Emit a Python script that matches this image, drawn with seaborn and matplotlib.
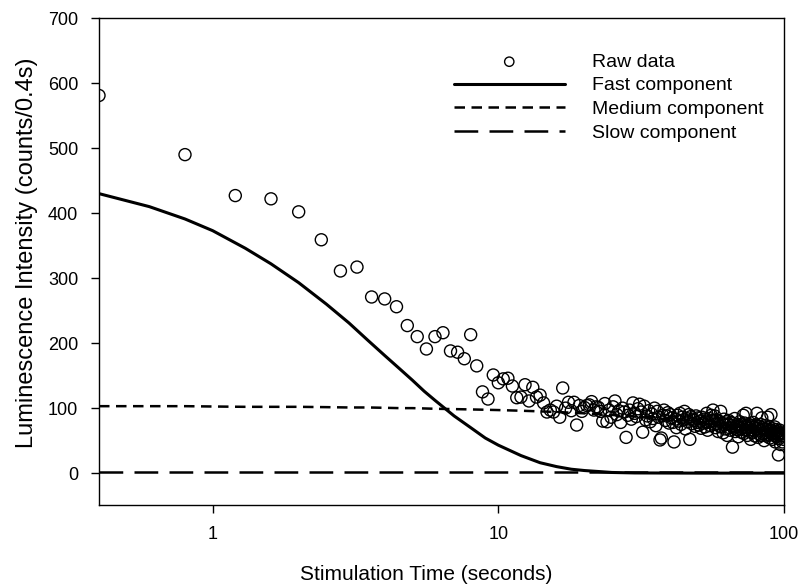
import numpy as np
import pandas as pd
import matplotlib
matplotlib.use("Agg")
import matplotlib.pyplot as plt
import seaborn as sns

# ---------------- data ----------------
# raw data: one channel every 0.4 s, 250 channels (0.4 .. 100 s)
raw_time = np.round(np.arange(1, 251) * 0.4, 1)
raw_counts = [
    581, 490, 427, 422, 402, 359, 311, 317, 271, 268,
    256, 227, 210, 191, 210, 216, 188, 186, 176, 213,
    165, 125, 114, 151, 139, 145, 146, 134, 116, 117,
    136, 111, 132, 117, 120, 108, 94, 97, 94, 103,
    86, 131, 100, 109, 96, 109, 74, 104, 95, 101,
    104, 105, 110, 97, 102, 101, 95, 80, 107, 79,
    97, 86, 102, 111, 90, 96, 78, 100, 94, 55,
    89, 97, 83, 108, 92, 87, 99, 106, 94, 63,
    103, 82, 88, 96, 79, 91, 84, 100, 73, 95,
    86, 51, 54, 89, 97, 81, 88, 93, 77, 90,
    85, 78, 48, 83, 70, 89, 80, 92, 75, 86,
    82, 95, 68, 84, 79, 90, 52, 87, 76, 83,
    81, 72, 88, 78, 85, 74, 80, 69, 86, 77,
    83, 71, 79, 92, 66, 78, 84, 73, 89, 81,
    97, 75, 88, 70, 82, 76, 64, 80, 72, 95,
    71, 77, 62, 83, 74, 68, 79, 58, 75, 81,
    70, 66, 78, 73, 40, 76, 69, 84, 64, 72,
    67, 75, 56, 71, 79, 68, 63, 74, 70, 89,
    61, 77, 66, 92, 72, 58, 69, 75, 64, 71,
    52, 67, 73, 62, 78, 65, 70, 57, 68, 74,
    92, 69, 55, 72, 60, 66, 75, 58, 85, 70,
    61, 67, 50, 73, 62, 68, 57, 65, 86, 59,
    64, 71, 54, 66, 90, 60, 65, 52, 68, 58,
    63, 71, 48, 62, 67, 56, 64, 59, 28, 53,
    61, 66, 44, 60, 57, 63, 48, 58, 52, 61,
]

comp_time = [0.4, 0.6, 0.8, 1.0, 1.3, 1.6, 2.0, 2.5, 3.0, 3.5, 4.0, 4.5, 5.0,
             5.5, 6.0, 7.0, 8.0, 9.0, 10, 12, 14, 16, 18, 20, 25, 30, 50, 100]
fast_vals = [430, 410, 391, 373, 346, 322, 293, 260, 231, 204, 181, 161, 143,
             126, 112, 88, 70, 54, 43, 27, 16, 10, 6, 4, 1, 0.3, 0, 0]
medium_vals = [103, 103, 103, 102.5, 102, 102, 102, 101.5, 101, 101, 100.5, 100, 100,
               99.5, 99, 98.5, 98, 97.5, 97, 96, 95, 94, 93, 92, 89.5, 87, 79, 61]
slow_vals = [2] * len(comp_time)

labels = ["Raw data", "Fast component", "Medium component", "Slow component"]
x_ticks = [1, 10, 100]
x_tick_labels = ["1", "10", "100"]
y_ticks = [0, 100, 200, 300, 400, 500, 600, 700]

raw_df = pd.DataFrame({"t": raw_time, "counts": raw_counts})
comp_df = pd.DataFrame({"t": comp_time, "fast": fast_vals,
                        "medium": medium_vals, "slow": slow_vals})

# ---------------- plot ----------------
sns.set_theme(style="white")
plt.rcParams["font.family"] = ["Liberation Sans", "DejaVu Sans"]

fig = plt.figure(figsize=(8.01, 5.85), dpi=100)
ax = fig.add_axes([0.1236, 0.1368, 0.9788 - 0.1236, 0.969 - 0.1368])

sns.scatterplot(data=raw_df, x="t", y="counts", ax=ax, marker="o", s=75,
                color="none", edgecolor="black", linewidth=1.0, label=labels[0],
                zorder=3)
sns.lineplot(data=comp_df, x="t", y="fast", ax=ax, color="black", lw=2.2,
             label=labels[1], estimator=None, sort=False, zorder=4)
sns.lineplot(data=comp_df, x="t", y="medium", ax=ax, color="black", lw=1.8,
             linestyle=(0, (4.2, 2.6)), label=labels[2], estimator=None,
             sort=False, zorder=4)
sns.lineplot(data=comp_df, x="t", y="slow", ax=ax, color="black", lw=1.8,
             linestyle=(0, (9.5, 4.5)), label=labels[3], estimator=None,
             sort=False, zorder=4)

ax.set_xscale("log")
ax.set_xlim(0.4, 100)
ax.set_ylim(-49, 700)
ax.set_xticks(x_ticks)
ax.set_xticklabels(x_tick_labels)
ax.xaxis.set_minor_locator(matplotlib.ticker.NullLocator())
ax.set_yticks(y_ticks)

ax.tick_params(axis="both", which="major", direction="out", length=6, width=1,
               color="black", labelsize=13, labelcolor="black", pad=9,
               bottom=True, left=True)
for sp in ax.spines.values():
    sp.set_color("black")
    sp.set_linewidth(1.0)

ax.set_xlabel("Stimulation Time (seconds)", fontsize=15, color="black", labelpad=16)
ax.xaxis.label.set_x(0.477)
ax.set_ylabel("Luminescence Intensity (counts/0.4s)", fontsize=17, color="black",
              labelpad=7)
ax.yaxis.label.set_y(0.518)

handles, labs = ax.get_legend_handles_labels()
leg = ax.legend(handles, labs, loc="upper left", bbox_to_anchor=(0.518, 0.928),
                frameon=False, fontsize=14, handlelength=5.7, handletextpad=1.4,
                labelspacing=0.31, borderpad=0, borderaxespad=0, scatterpoints=1)
for t in leg.get_texts():
    t.set_color("black")
leg.legend_handles[0].set_sizes([45])

fig.savefig("out.png", dpi=100, facecolor="white")
